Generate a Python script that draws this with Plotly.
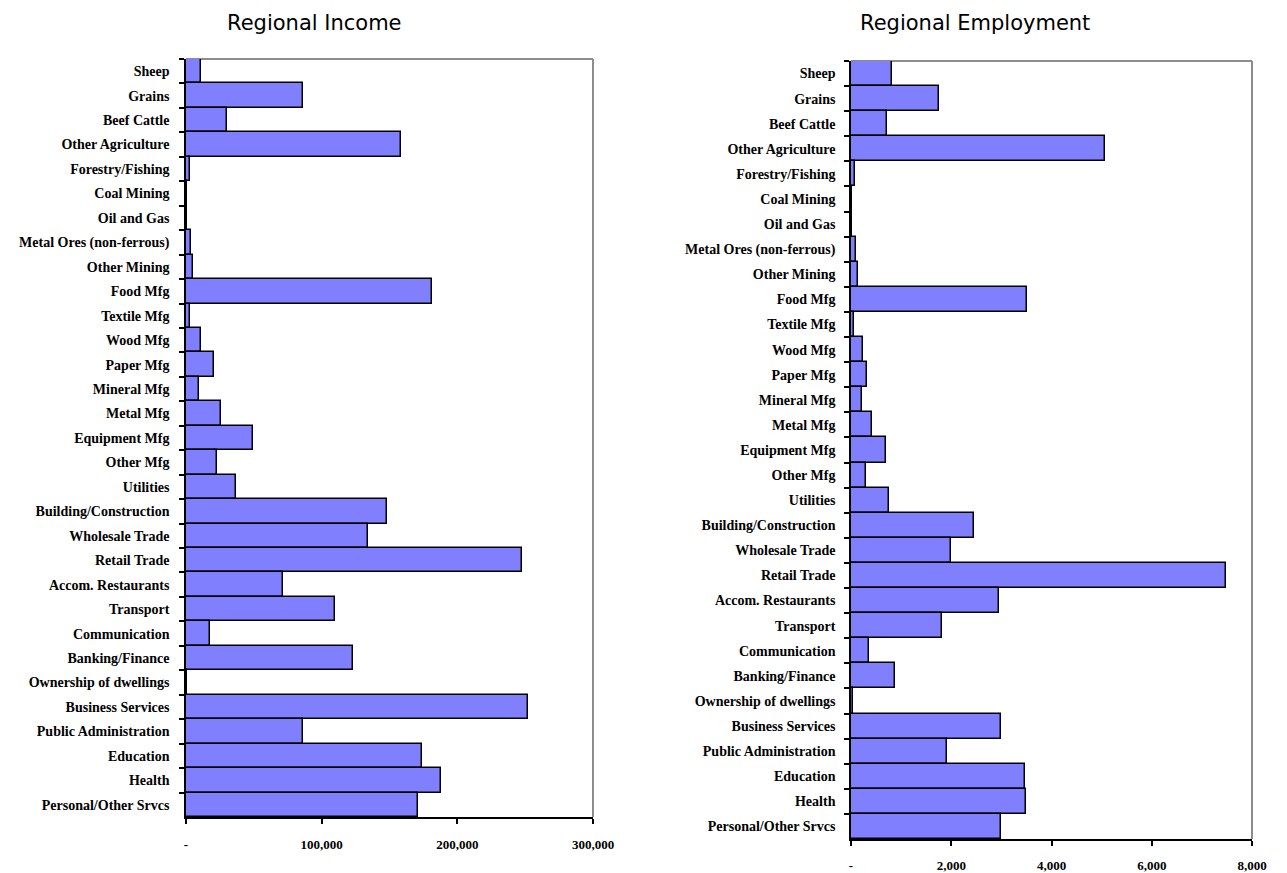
import plotly.graph_objects as go

categories = ["Sheep", "Grains", "Beef Cattle", "Other Agriculture", "Forestry/Fishing",
              "Coal Mining", "Oil and Gas", "Metal Ores (non-ferrous)", "Other Mining",
              "Food Mfg", "Textile Mfg", "Wood Mfg", "Paper Mfg", "Mineral Mfg", "Metal Mfg",
              "Equipment Mfg", "Other Mfg", "Utilities", "Building/Construction",
              "Wholesale Trade", "Retail Trade", "Accom. Restaurants", "Transport",
              "Communication", "Banking/Finance", "Ownership of dwellings",
              "Business Services", "Public Administration", "Education", "Health",
              "Personal/Other Srvcs"]

income = [11000, 86000, 30500, 158500, 3000, 800, 600, 4000, 5500, 181500, 3000,
          11000, 20500, 9500, 26000, 49500, 22500, 36500, 148500, 134000, 247500,
          71500, 110000, 18000, 123000, 1000, 252000, 86000, 174000, 188000, 171000]

employment = [826, 1750, 713, 5060, 72, 25, 20, 97, 130, 3505, 64,
              243, 324, 210, 421, 705, 307, 754, 2457, 1988, 7480,
              2960, 1808, 365, 876, 30, 2994, 1922, 3465, 3489, 3002]

income_ticks = [0, 100000, 200000, 300000]
income_ticktext = ["-", "100,000", "200,000", "300,000"]
emp_ticks = [0, 2000, 4000, 6000, 8000]
emp_ticktext = ["-", "2,000", "4,000", "6,000", "8,000"]

W, H = 1287, 873
fig = go.Figure()

bar_style = dict(orientation="h", marker=dict(color="#8080FF", line=dict(color="black", width=1.5)),
                 showlegend=False, hoverinfo="x+y")
fig.add_trace(go.Bar(x=income, y=categories, xaxis="x", yaxis="y", **bar_style))
fig.add_trace(go.Bar(x=employment, y=categories, xaxis="x2", yaxis="y2", **bar_style))

tickfont = dict(family="Liberation Serif", size=14, color="black", weight="bold")
xtickfont = dict(family="Liberation Serif", size=13, color="black", weight="bold")

def xa(domain, rng, tv, tt, anchor, standoff):
    return dict(domain=domain, range=rng, tickvals=tv, ticktext=tt, anchor=anchor,
                showgrid=False, zeroline=False, showline=True, linecolor="black", linewidth=1.5,
                ticks="outside", ticklen=5, tickwidth=1.5, tickcolor="black",
                tickfont=xtickfont, ticklabelstandoff=standoff, automargin=False, fixedrange=True)

def ya(domain, anchor, standoff):
    return dict(domain=domain, autorange="reversed", anchor=anchor, type="category",
                showgrid=False, zeroline=False, showline=True, linecolor="black", linewidth=1.5,
                ticks="outside", ticklen=5, tickwidth=1.5, tickcolor="black",
                tickson="boundaries", tickfont=tickfont, ticklabelstandoff=standoff,
                automargin=False, fixedrange=True)

title_font = dict(family="DejaVu Sans", size=21, color="black")

fig.update_layout(
    width=W, height=H, margin=dict(l=0, r=0, t=0, b=0),
    paper_bgcolor="white", plot_bgcolor="white", bargap=0,
    xaxis=xa([186 / W, 593 / W], [0, 300000], income_ticks, income_ticktext, "y", 10),
    yaxis=ya([(H - 817) / H, (H - 59) / H], "x", 12),
    xaxis2=xa([851 / W, 1252 / W], [0, 8000], emp_ticks, emp_ticktext, "y2", 9),
    yaxis2=ya([(H - 839) / H, (H - 61) / H], "x2", 11),
    annotations=[
        dict(text="Regional Income", x=314 / W, y=1 - 23 / H, xref="paper", yref="paper",
             showarrow=False, xanchor="center", yanchor="middle", font=title_font),
        dict(text="Regional Employment", x=975 / W, y=1 - 23 / H, xref="paper", yref="paper",
             showarrow=False, xanchor="center", yanchor="middle", font=title_font),
    ],
    shapes=[
        dict(type="line", xref="x domain", yref="y domain", x0=0, x1=1, y0=1, y1=1,
             line=dict(color="#8c8c8c", width=2), layer="below"),
        dict(type="line", xref="x domain", yref="y domain", x0=1, x1=1, y0=0, y1=1,
             line=dict(color="#8c8c8c", width=2), layer="below"),
        dict(type="line", xref="x2 domain", yref="y2 domain", x0=0, x1=1, y0=1, y1=1,
             line=dict(color="#8c8c8c", width=2), layer="below"),
        dict(type="line", xref="x2 domain", yref="y2 domain", x0=1, x1=1, y0=0, y1=1,
             line=dict(color="#8c8c8c", width=2), layer="below"),
    ],
)

fig.write_html("out.html")
